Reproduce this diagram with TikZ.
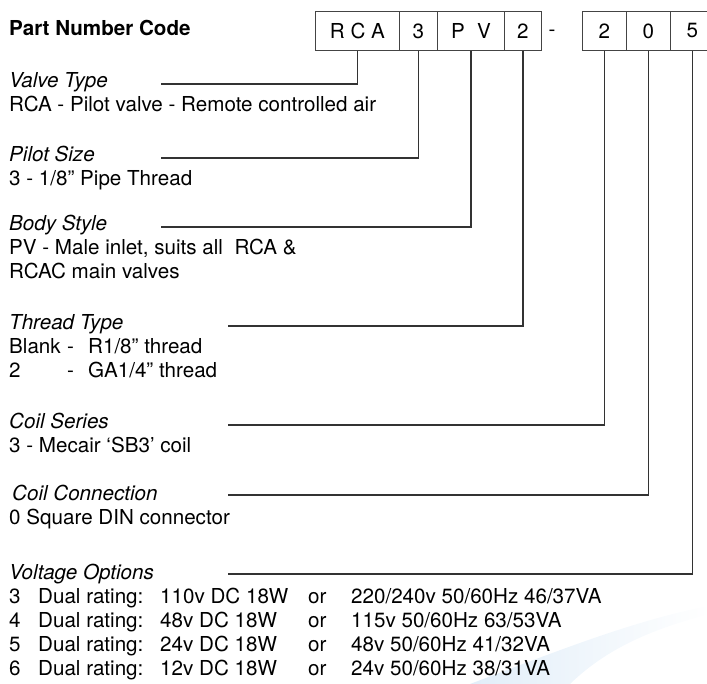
\documentclass[tikz,border=0pt]{standalone}
\usepackage{fontspec}
\setmainfont{TeX Gyre Heros}
\usepackage{xcolor}

\definecolor{linegray}{HTML}{333333}
\definecolor{boxgray}{HTML}{444444}
\definecolor{swooshblue}{HTML}{C4DDF3}

% one row of the voltage table
\newcommand{\voltrow}[3]{\makebox[29pt][l]{#1}\makebox[122pt][l]{Dual rating:}\makebox[148pt][l]{#2}\makebox[43pt][l]{or}#3}

\begin{document}
\begin{tikzpicture}[x=1pt, y=-1pt,
        every node/.style={font=\fontsize{20.6}{24}\selectfont, inner sep=0pt},
        codebox/.style={draw=boxgray, line width=0.9pt, minimum height=39pt, anchor=north west},
        heading/.style={anchor=base west, font=\fontsize{20.6}{24}\selectfont\itshape},
        desc/.style={anchor=base west, align=left},
        lead/.style={draw=linegray, line width=1.4pt}]
        \useasboundingbox (0,0) rectangle (707,684);

        % faint swoosh, lower right
        \shade[left color=swooshblue, right color=white, opacity=0.5]
            (470,684) .. controls (560,650) and (630,622) .. (707,606)
            -- (707,615) .. controls (640,632) and (600,655) .. (570,684) -- cycle;

        % Title
        \node[anchor=base west, font=\fontsize{20.6}{24}\selectfont\bfseries] (title) at (9,36) {Part Number Code};

        % Code boxes
        \node[codebox, minimum width=84pt] (rca) at (315,11) {R C A};
        \node[codebox, minimum width=38pt] (size) at (399,11) {3};
        \node[codebox, minimum width=67pt] (style) at (437,11) {P\hspace{0.6em}V};
        \node[codebox, minimum width=37pt] (thread) at (504,11) {2};
        \node (sep) at (552,33) {-};
        \node[codebox, minimum width=44pt] (series) at (582,11) {2};
        \node[codebox, minimum width=44pt] (conn) at (626,11) {0};
        \node[codebox, minimum width=44pt] (volt) at (670,11) {5};

        % Headings and descriptions (multi-line ones sit on their last baseline)
        \node[heading] (valveHead) at (9,88) {Valve Type};
        \node[desc] (valveDesc) at (9,112) {RCA - Pilot valve - Remote controlled air};

        \node[heading] (pilotHead) at (9,162) {Pilot Size};
        \node[desc] (pilotDesc) at (9,186) {3 - 1/8” Pipe Thread};

        \node[heading] (bodyHead) at (9,231) {Body Style};
        \node[desc] (bodyDesc) at (9,279) {PV - Male inlet, suits all\ \ RCA \&\\RCAC main valves};

        \node[heading] (threadHead) at (9,330) {Thread Type};
        \node[desc] (threadDesc) at (9,378) {\makebox[58pt][l]{Blank}\makebox[21pt][l]{-}R1/8” thread\\
            \makebox[58pt][l]{2}\makebox[21pt][l]{-}GA1/4” thread};

        \node[heading] (seriesHead) at (9,429) {Coil Series};
        \node[desc] (seriesDesc) at (9,453) {3 - Mecair ‘SB3’ coil};

        \node[heading] (connHead) at (12,500) {Coil Connection};
        \node[desc] (connDesc) at (9,524) {0 Square DIN connector};

        \node[heading] (voltHead) at (9,579) {Voltage Options};
        \node[desc] (voltDesc) at (9,675) {\voltrow{3}{110v DC 18W}{220/240v 50/60Hz 46/37VA}\\
            \voltrow{4}{48v DC 18W}{115v 50/60Hz 63/53VA}\\
            \voltrow{5}{24v DC 18W}{48v 50/60Hz 41/32VA}\\
            \voltrow{6}{12v DC 18W}{24v 50/60Hz 38/31VA}};

        % Leader ends
        \coordinate (valveEnd) at (161,84);
        \coordinate (pilotEnd) at (161,158);
        \coordinate (bodyEnd) at (161,227);
        \coordinate (threadEnd) at (228,326);
        \coordinate (seriesEnd) at (228,425);
        \coordinate (connEnd) at (228,495);
        \coordinate (voltEnd) at (228,574);

        % Leaders from boxes to headings
        \draw[lead] (rca.south) |- (valveEnd);
        \draw[lead] (size.south) |- (pilotEnd);
        \draw[lead] (style.south) |- (bodyEnd);
        \draw[lead] (thread.south) |- (threadEnd);
        \draw[lead] (series.south) |- (seriesEnd);
        \draw[lead] (conn.south) |- (connEnd);
        \draw[lead] (volt.south) |- (voltEnd);
    \end{tikzpicture}
\end{document}
